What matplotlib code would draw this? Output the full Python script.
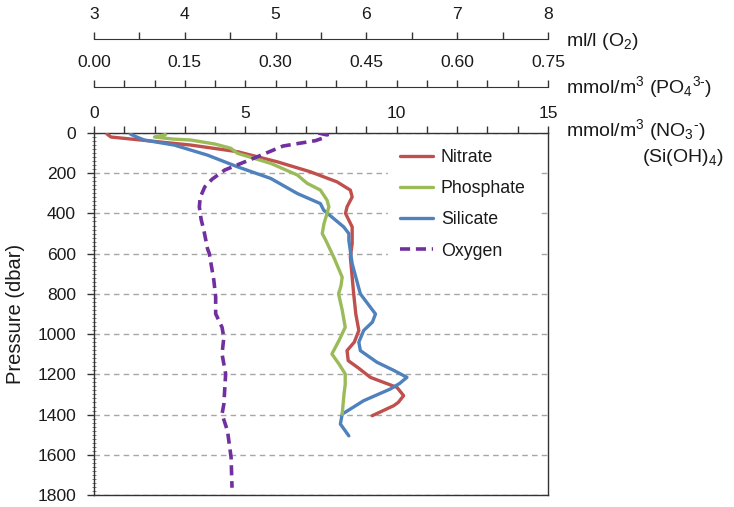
import matplotlib
matplotlib.use("Agg")
import matplotlib.pyplot as plt
from matplotlib.ticker import MultipleLocator

plt.rcParams['font.family'] = ['Liberation Sans', 'DejaVu Sans']
plt.rcParams['mathtext.fontset'] = 'custom'
plt.rcParams['mathtext.rm'] = 'Liberation Sans'
plt.rcParams['mathtext.it'] = 'Liberation Sans:italic'
plt.rcParams['mathtext.bf'] = 'Liberation Sans:bold'

# ---------------- data ----------------
nitrate_p = [5, 20, 35, 60, 93, 143, 193, 243, 284, 318, 367, 400, 467, 550, 617, 700,
             800, 900, 982, 1040, 1082, 1132, 1170, 1215, 1265, 1306, 1340, 1356, 1406]
nitrate = [0.43, 0.56, 1.55, 3.2, 4.74, 6.05, 7.15, 8.03, 8.47, 8.53, 8.36, 8.31, 8.53, 8.53, 8.47, 8.52,
           8.58, 8.65, 8.75, 8.6, 8.36, 8.4, 8.75, 9.13, 10.01, 10.23, 10.05, 9.9, 9.19]

phosphate_p = [8, 20, 30, 35, 55, 76, 101, 151, 209, 250, 284, 334, 367, 400, 450, 500, 534,
               617, 717, 760, 800, 880, 966, 1030, 1099, 1150, 1198, 1250, 1298, 1398]
phosphate = [0.118, 0.10, 0.13, 0.16, 0.20, 0.226, 0.237, 0.292, 0.336, 0.352, 0.374, 0.385, 0.388,
             0.385, 0.38, 0.377, 0.383, 0.396, 0.41, 0.408, 0.404, 0.41, 0.415, 0.405, 0.393, 0.405,
             0.415, 0.415, 0.413, 0.41]

silicate_p = [5, 18, 35, 60, 110, 168, 226, 301, 351, 384, 467, 500, 534, 650, 800, 860, 900,
              940, 982, 1040, 1082, 1140, 1180, 1215, 1245, 1273, 1331, 1398, 1447, 1506]
silicate = [1.2, 1.38, 1.66, 2.65, 3.75, 4.74, 5.84, 6.72, 7.48, 7.59, 8.25, 8.42, 8.42, 8.53, 8.8,
            9.1, 9.3, 9.2, 8.91, 8.75, 8.8, 9.35, 9.9, 10.34, 10.1, 9.79, 8.91, 8.2, 8.14, 8.42]

oxygen_p = [0, 10, 27, 38, 52, 65, 118, 184, 230, 268, 320, 367, 430, 484, 575, 600, 733, 816,
            899, 966, 1016, 1099, 1198, 1348, 1398, 1481, 1614, 1764]
oxygen = [5.47, 5.57, 5.51, 5.44, 5.25, 5.08, 4.80, 4.44, 4.30, 4.22, 4.17, 4.16, 4.18, 4.21,
          4.25, 4.27, 4.32, 4.34, 4.34, 4.41, 4.43, 4.41, 4.45, 4.43, 4.41, 4.47, 4.51, 4.52]

pressure_ticks = list(range(0, 1801, 200))
no3_ticks = list(range(0, 16))
po4_ticks = [round(0.05 * i, 2) for i in range(16)]
o2_ticks = [3 + 0.5 * i for i in range(11)]

# ---------------- figure ----------------
W, H = 734, 507
fig = plt.figure(figsize=(W / 100, H / 100), dpi=100)
L, R, T, B = 94, 548, 133, 495
ax = fig.add_axes([L / W, 1 - B / H, (R - L) / W, (B - T) / H])
ax2 = ax.twiny()
ax3 = ax.twiny()

spine_c = '#333333'
txt_c = '#1a1a1a'
fs = 12.6

# Main axis: NO3 / Si on top
ax.set_xlim(0, 15)
ax.set_ylim(1800, 0)
ax.set_xticks(no3_ticks)
ax.set_xticklabels([str(t) if t % 5 == 0 else '' for t in no3_ticks])
ax.tick_params(axis='x', direction='out', length=5, width=1, color=spine_c,
               labelsize=fs, pad=4, bottom=False, labelbottom=False,
               top=True, labeltop=True, labelcolor=txt_c)
ax.set_yticks(pressure_ticks)
ax.set_yticklabels([str(t) for t in pressure_ticks])
ax.yaxis.set_minor_locator(MultipleLocator(20))
ax.tick_params(axis='y', which='major', direction='out', length=5, width=1,
               color=spine_c, labelsize=fs, pad=8, labelcolor=txt_c)
ax.tick_params(axis='y', which='minor', direction='inout', length=2.5, width=0.6,
               color='#666666')
for s in ax.spines.values():
    s.set_color(spine_c)
    s.set_linewidth(1)

ax.yaxis.grid(True, which='major', color='#a6a6a6', linestyle=(0, (4, 3)), linewidth=1)
ax.set_axisbelow(True)
ax.set_ylabel('Pressure (dbar)', fontsize=14.5, color=txt_c)
ax.yaxis.set_label_coords((25 - L) / (R - L), 0.5)

lw = 2.4
h_n, = ax.plot(nitrate, nitrate_p, color='#c0504d', lw=lw, label='Nitrate',
               solid_capstyle='round', solid_joinstyle='round', zorder=3)
h_s, = ax.plot(silicate, silicate_p, color='#4f81bd', lw=lw, label='Silicate',
               solid_capstyle='round', solid_joinstyle='round', zorder=3)

# Phosphate axis
ax2.set_xlim(0, 0.75)
ax2.spines['top'].set_position(('outward', (T - 87) * 0.72))
for k in ['left', 'right', 'bottom']:
    ax2.spines[k].set_visible(False)
ax2.spines['top'].set_color(spine_c)
ax2.set_xticks(po4_ticks)
ax2.set_xticklabels(['%.2f' % t if abs(t / 0.15 - round(t / 0.15)) < 1e-6 else '' for t in po4_ticks])
ax2.tick_params(axis='x', direction='out', length=5, width=1, color=spine_c,
                labelsize=fs, pad=7, labelcolor=txt_c)
h_p, = ax2.plot(phosphate, phosphate_p, color='#9bbb59', lw=lw, label='Phosphate',
                solid_capstyle='round', solid_joinstyle='round', zorder=3)

# Oxygen axis
ax3.set_xlim(3, 8)
ax3.spines['top'].set_position(('outward', (T - 39) * 0.72))
for k in ['left', 'right', 'bottom']:
    ax3.spines[k].set_visible(False)
ax3.spines['top'].set_color(spine_c)
ax3.set_xticks(o2_ticks)
ax3.set_xticklabels([str(int(t)) if t == int(t) else '' for t in o2_ticks])
ax3.tick_params(axis='x', direction='out', length=5, width=1, color=spine_c,
                labelsize=fs, pad=7.5, labelcolor=txt_c)
h_o, = ax3.plot(oxygen, oxygen_p, color='#7030a0', lw=2.6, label='Oxygen',
                linestyle=(0, (2.8, 1.6)), dash_capstyle='butt', zorder=3)

leg = ax3.legend([h_n, h_p, h_s, h_o], ['Nitrate', 'Phosphate', 'Silicate', 'Oxygen'],
                 loc='upper left', bbox_to_anchor=((388 - L) / (R - L), (B - 137) / (B - T)),
                 bbox_transform=ax.transAxes, frameon=True, fancybox=False,
                 facecolor='white', edgecolor='none', framealpha=1,
                 fontsize=12.8, handlelength=1.85, handletextpad=0.45,
                 labelspacing=0.8, borderpad=0.67, borderaxespad=0)
for t in leg.get_texts():
    t.set_color(txt_c)

# Right-side axis titles
def ft(x, y, s, **kw):
    fig.text(x / W, 1 - y / H, s, fontsize=14, va='center', color=txt_c, **kw)

ft(566, 41, r'ml/l (O$_2$)')
ft(566, 87, r'mmol/m$^3$ (PO$_4$$^{3\text{-}}$)')
ft(566, 130, r'mmol/m$^3$ (NO$_3$$^{\text{-}}$)')
ft(724, 157, r'(Si(OH)$_4$)', ha='right')

fig.savefig('out.png', dpi=100)
